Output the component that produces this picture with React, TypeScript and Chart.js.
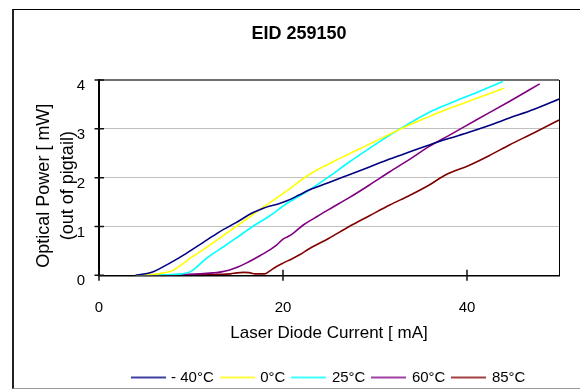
import React, { useEffect, useRef } from 'react';
import { Chart, registerables } from 'chart.js';

Chart.register(...registerables);

const FONT = '"Liberation Sans", Arial, Helvetica, sans-serif';

const titleText = 'EID 259150';
const xTitle = 'Laser Diode Current [ mA]';
const yTitleLines = ['Optical Power [ mW]', '(out of pigtail)'];
const xTickValues = [0, 20, 40];
const yTickValues = [0, 1, 2, 3, 4];
const xMin = 0;
const xMax = 50;
const yMin = 0;
const yMax = 4;

const seriesLabels = ['- 40°C', '0°C', '25°C', '60°C', '85°C'];
const seriesColors = ['#000080', '#FFFF00', '#00FFFF', '#800080', '#800000'];

// -40°C
const m40X = [4.0, 5.0, 5.9, 7.7, 9.5, 11.3, 13.1, 14.9, 16.7, 17.8, 18.6, 19.3, 20.5, 21.8, 22.9, 25.0, 27.2, 29.4, 31.6, 33.8, 35.9, 38.0, 40.2, 42.4, 44.6, 47.3, 50.0];
const m40Y = [0, 0.03, 0.075, 0.25, 0.45, 0.67, 0.89, 1.08, 1.28, 1.37, 1.42, 1.45, 1.53, 1.65, 1.75, 1.9, 2.06, 2.22, 2.38, 2.53, 2.67, 2.8, 2.93, 3.07, 3.22, 3.4, 3.61];
// 0°C
const p0X = [4.0, 6.0, 7.0, 7.9, 9.0, 9.9, 11.3, 13.1, 14.9, 16.7, 17.8, 18.5, 20.4, 22.9, 25.8, 28.0, 30.1, 33.7, 36.0, 38.1, 41.0, 44.0];
const p0Y = [0, 0.02, 0.05, 0.09, 0.22, 0.35, 0.52, 0.76, 1.0, 1.24, 1.39, 1.48, 1.73, 2.07, 2.36, 2.56, 2.75, 3.08, 3.26, 3.42, 3.62, 3.83];
// 25°C
const p25X = [4.0, 7.0, 9.0, 9.9, 10.5, 11.7, 13.1, 14.9, 16.7, 18.5, 20.4, 22.9, 25.0, 27.2, 29.4, 31.6, 33.8, 35.9, 38.1, 41.0, 43.9];
const p25Y = [0, 0.01, 0.03, 0.07, 0.15, 0.35, 0.53, 0.76, 1.0, 1.21, 1.47, 1.75, 2.02, 2.32, 2.6, 2.87, 3.12, 3.34, 3.52, 3.74, 3.97];
// 60°C
const p60X = [4.0, 8.0, 11.0, 12.4, 13.3, 14.2, 15.1, 16.0, 17.0, 18.2, 19.3, 20.0, 20.5, 21.1, 22.2, 23.5, 25.0, 27.2, 29.4, 31.6, 33.8, 35.9, 38.1, 41.0, 44.6, 47.9];
const p60Y = [0, 0.01, 0.03, 0.05, 0.07, 0.11, 0.17, 0.25, 0.35, 0.48, 0.62, 0.74, 0.79, 0.86, 1.03, 1.18, 1.35, 1.59, 1.85, 2.12, 2.38, 2.64, 2.87, 3.18, 3.56, 3.92];
// 85°C
const p85X = [4.0, 8.0, 11.0, 13.0, 14.3, 15.0, 15.7, 16.3, 17.0, 18.0, 18.5, 19.3, 20.0, 21.0, 21.8, 22.9, 25.0, 27.2, 29.4, 31.6, 33.8, 35.9, 37.7, 40.2, 42.4, 44.6, 47.3, 50.0];
const p85Y = [0, 0.005, 0.01, 0.02, 0.03, 0.05, 0.06, 0.055, 0.03, 0.03, 0.08, 0.18, 0.25, 0.34, 0.42, 0.55, 0.76, 1.0, 1.22, 1.44, 1.64, 1.85, 2.06, 2.25, 2.45, 2.67, 2.92, 3.18];

const seriesX = [m40X, p0X, p25X, p60X, p85X];
const seriesY = [m40Y, p0Y, p25Y, p60Y, p85Y];

function lineSwatch(color: string): HTMLCanvasElement {
  const c = document.createElement('canvas');
  c.width = 35;
  c.height = 4;
  const g = c.getContext('2d')!;
  g.strokeStyle = color;
  g.lineWidth = 1.6;
  g.beginPath();
  g.moveTo(0, 2);
  g.lineTo(35, 2);
  g.stroke();
  return c;
}

const framePlugin = {
  id: 'framePlugin',
  afterDatasetsDraw(chart: any) {
    const { ctx, chartArea: a, scales } = chart;
    ctx.save();
    ctx.strokeStyle = '#000';
    ctx.lineWidth = 1;
    ctx.beginPath();
    ctx.moveTo(Math.round(a.right) + 0.5, a.top);
    ctx.lineTo(Math.round(a.right) + 0.5, a.bottom);
    ctx.stroke();

    ctx.lineWidth = 1.5;
    ctx.strokeStyle = '#111';
    ctx.beginPath();
    for (const v of xTickValues) {
      const px = scales.x.getPixelForValue(v);
      ctx.moveTo(px, a.bottom - 5.5);
      ctx.lineTo(px, a.bottom + 5.5);
    }
    for (const v of yTickValues) {
      const py = scales.y.getPixelForValue(v);
      ctx.moveTo(a.left - 4.5, py);
      ctx.lineTo(a.left + 5, py);
    }
    ctx.stroke();

    ctx.fillStyle = '#000';
    ctx.font = '18px ' + FONT;
    ctx.textAlign = 'center';
    ctx.textBaseline = 'middle';
    ctx.translate(30, (a.top + a.bottom) / 2 + 8);
    ctx.rotate(-Math.PI / 2);
    yTitleLines.forEach((t, i) => ctx.fillText(t, 0, i * 24));
    ctx.restore();
  },
};

export default function App() {
  const ref = useRef<HTMLCanvasElement | null>(null);

  useEffect(() => {
    if (!ref.current) return;
    const datasets = seriesLabels.map((label, i) => ({
      label,
      data: seriesX[i].map((x, j) => ({ x, y: seriesY[i][j] })),
      borderColor: seriesColors[i],
      backgroundColor: seriesColors[i],
      borderWidth: 1.6,
      pointRadius: 0,
      pointHoverRadius: 0,
      pointStyle: lineSwatch(seriesColors[i]) as any,
      fill: false,
      cubicInterpolationMode: 'monotone' as const,
    }));

    const chart = new Chart(ref.current, {
      type: 'line',
      data: { datasets },
      options: {
        animation: false,
        responsive: true,
        maintainAspectRatio: false,
        events: [],
        layout: { padding: { left: 25, right: 25, top: 0, bottom: 0 } },
        plugins: {
          title: {
            display: true,
            text: titleText,
            color: '#000',
            font: { family: FONT, size: 18, weight: 'bold' },
            padding: { top: 13.7, bottom: 34.7 },
          },
          legend: {
            position: 'bottom',
            fullSize: false,
            labels: {
              usePointStyle: true,
              pointStyleWidth: 31,
              color: '#000',
              font: { family: FONT, size: 15 },
              padding: 8,
            },
          },
          tooltip: { enabled: false },
        },
        scales: {
          x: {
            type: 'linear',
            min: xMin,
            max: xMax,
            afterBuildTicks: (s: any) => {
              s.ticks = xTickValues.map((v) => ({ value: v }));
            },
            afterFit: (s: any) => {
              s.height = 86.7;
            },
            grid: { display: false, drawTicks: false },
            border: { display: true, color: '#000', width: 1.5 },
            ticks: {
              color: '#000',
              font: { family: FONT, size: 15 },
              padding: 24,
              maxRotation: 0,
            },
            title: {
              display: true,
              text: xTitle,
              color: '#000',
              font: { family: FONT, size: 17 },
              padding: { top: 0, bottom: 18.8 },
            },
          },
          y: {
            type: 'linear',
            min: yMin,
            max: yMax,
            afterBuildTicks: (s: any) => {
              s.ticks = yTickValues.map((v) => ({ value: v }));
            },
            afterFit: (s: any) => {
              s.width = 60;
            },
            grid: {
              drawTicks: false,
              color: (c: any) =>
                c.tick && c.tick.value === 0
                  ? 'rgba(0,0,0,0)'
                  : c.tick && c.tick.value === 4
                  ? '#707070'
                  : '#c0c0c0',
              lineWidth: (c: any) => (c.tick && c.tick.value === 4 ? 2 : 1),
            },
            border: { display: true, color: '#000', width: 2 },
            ticks: {
              color: '#000',
              font: { family: FONT, size: 15 },
              padding: 14,
              labelOffset: 6,
            },
          },
        },
      },
      plugins: [framePlugin],
    });
    return () => chart.destroy();
  }, []);

  return (
    <div style={{ position: 'fixed', left: 0, top: 0, width: 580, height: 390, overflow: 'hidden', background: '#fff' }}>
      <div style={{ position: 'absolute', left: 14, top: 10, width: 570, height: 385 }}>
        <canvas ref={ref} />
      </div>
      <div
        style={{
          position: 'absolute',
          left: 12,
          top: 9,
          width: 600,
          height: 380,
          boxSizing: 'border-box',
          borderLeft: '2px solid #222',
          borderTop: '1px solid #000',
          borderBottom: '1px solid #999',
          pointerEvents: 'none',
        }}
      />
    </div>
  );
}
